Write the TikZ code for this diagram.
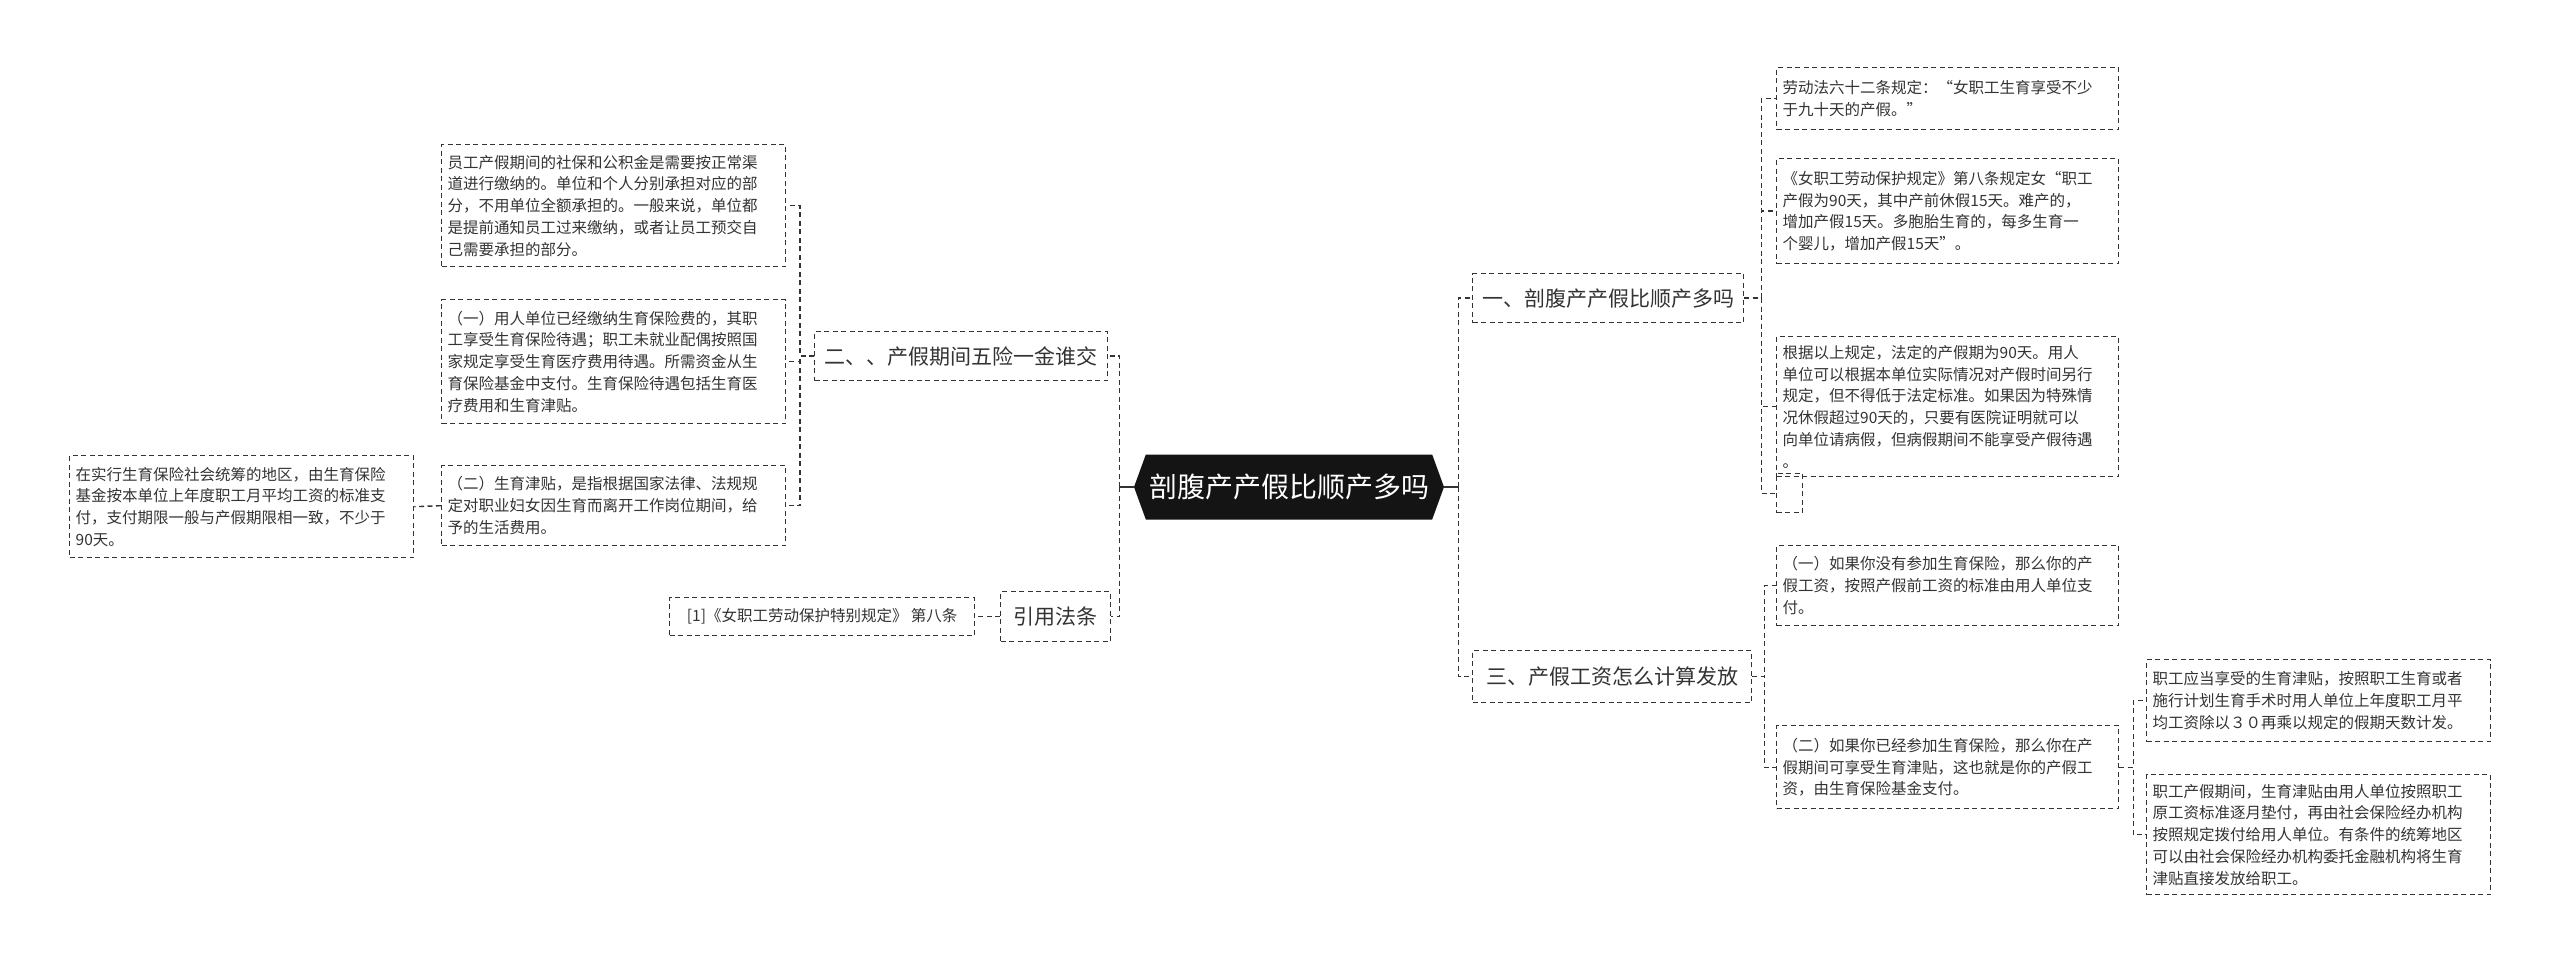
\documentclass[tikz,border=0pt]{standalone}
\usepackage{fontspec}
\setmainfont{Noto Sans CJK SC}
\usetikzlibrary{shapes.symbols}
\definecolor{tx}{HTML}{333333}
\tikzset{
  box/.style={draw=tx, line width=1.4pt, dash pattern=on 5pt off 3.5pt, anchor=north west, align=left, inner sep=6pt, text=tx, font=\fontsize{15.5}{21.7}\selectfont},
  lvl/.style={box, align=center, inner sep=0pt, font=\fontsize{21}{26}\selectfont},
  conn/.style={draw=tx, line width=1.4pt, dash pattern=on 5pt off 3.5pt},
  solidc/.style={draw=tx, line width=2pt},
}
\newcommand{\bx}[6]{\node[box, text width=#4pt-12pt, minimum height=#5pt] (#1) at (#2,#3) {#6};}
\begin{document}
\begin{tikzpicture}[x=1pt,y=-1pt]
\useasboundingbox (0,0) rectangle (2560,965);
% center
\node[signal, signal to=west and east, signal pointer angle=140, fill=black!92, text=white, font=\fontsize{28}{32}\selectfont, minimum width=310pt, minimum height=65pt, inner sep=0pt] (c) at (1289,487) {剖腹产产假比顺产多吗};
% level 1
\node[lvl, minimum width=271pt, minimum height=49pt] (l1) at (1472,273) {一、剖腹产产假比顺产多吗};
\node[lvl, minimum width=279pt, minimum height=52pt] (l3) at (1472,650) {三、产假工资怎么计算发放};
\node[lvl, minimum width=293pt, minimum height=49pt] (l2) at (814,331) {二、、产假期间五险一金谁交};
\node[lvl, minimum width=110pt, minimum height=50pt] (l4) at (1000,591) {引用法条};
% left boxes
\bx{a}{441}{144}{344}{122}{员工产假期间的社保和公积金是需要按正常渠\\道进行缴纳的。单位和个人分别承担对应的部\\分，不用单位全额承担的。一般来说，单位都\\是提前通知员工过来缴纳，或者让员工预交自\\己需要承担的部分。}
\bx{b}{441}{299}{344}{124}{（一）用人单位已经缴纳生育保险费的，其职\\工享受生育保险待遇；职工未就业配偶按照国\\家规定享受生育医疗费用待遇。所需资金从生\\育保险基金中支付。生育保险待遇包括生育医\\疗费用和生育津贴。}
\bx{cc}{441}{465}{344}{80}{（二）生育津贴，是指根据国家法律、法规规\\定对职业妇女因生育而离开工作岗位期间，给\\予的生活费用。}
\bx{f}{69}{455}{344}{102}{在实行生育保险社会统筹的地区，由生育保险\\基金按本单位上年度职工月平均工资的标准支\\付，支付期限一般与产假期限相一致，不少于\\90天。}
\node[box, minimum width=305pt, minimum height=38pt, inner sep=4pt] (r) at (669,597) {[1]《女职工劳动保护特别规定》 第八条};
% right boxes
\bx{r1}{1776}{67}{342}{62}{劳动法六十二条规定：“女职工生育享受不少\\于九十天的产假。”}
\bx{r2}{1776}{158}{342}{105}{《女职工劳动保护规定》第八条规定女“职工\\产假为90天，其中产前休假15天。难产的，\\增加产假15天。多胞胎生育的，每多生育一\\个婴儿，增加产假15天”。}
\bx{r3}{1776}{336}{342}{140}{根据以上规定，法定的产假期为90天。用人\\单位可以根据本单位实际情况对产假时间另行\\规定，但不得低于法定标准。如果因为特殊情\\况休假超过90天的，只要有医院证明就可以\\向单位请病假，但病假期间不能享受产假待遇\\。}
\node[box, minimum width=26pt, minimum height=39pt, inner sep=0pt] (r4) at (1776,473) {};
\bx{r5}{1776}{545}{342}{80}{（一）如果你没有参加生育保险，那么你的产\\假工资，按照产假前工资的标准由用人单位支\\付。}
\bx{r6}{1776}{725}{342}{83}{（二）如果你已经参加生育保险，那么你在产\\假期间可享受生育津贴，这也就是你的产假工\\资，由生育保险基金支付。}
\bx{r7}{2146}{659}{344}{82}{职工应当享受的生育津贴，按照职工生育或者\\施行计划生育手术时用人单位上年度职工月平\\均工资除以３０再乘以规定的假期天数计发。}
\bx{r8}{2146}{774}{344}{120}{职工产假期间，生育津贴由用人单位按照职工\\原工资标准逐月垫付，再由社会保险经办机构\\按照规定拨付给用人单位。有条件的统筹地区\\可以由社会保险经办机构委托金融机构将生育\\津贴直接发放给职工。}
% connectors
\draw[solidc] (c.east) -- ++(14,0) coordinate (cr);
\draw[solidc] (c.west) -- ++(-14,0) coordinate (cl);
\foreach \t in {l1,l3} \draw[conn] (cr) |- (\t.west);
\foreach \t in {l2,l4} \draw[conn] (cl) |- (\t.east);
\foreach \t in {a,b,cc} \draw[conn] (l2.west) -- ++(-14,0) |- (\t.east);
\draw[conn] (cc.west) -- (f.east);
\draw[conn] (l4.west) -- (r.east);
\foreach \t in {r1,r2,r3,r4} \draw[conn] (l1.east) -- ++(17,0) |- (\t.west);
\foreach \t in {r5,r6} \draw[conn] (l3.east) -- ++(12,0) |- (\t.west);
\foreach \t in {r7,r8} \draw[conn] (r6.east) -- ++(14,0) |- (\t.west);
\end{tikzpicture}
\end{document}
